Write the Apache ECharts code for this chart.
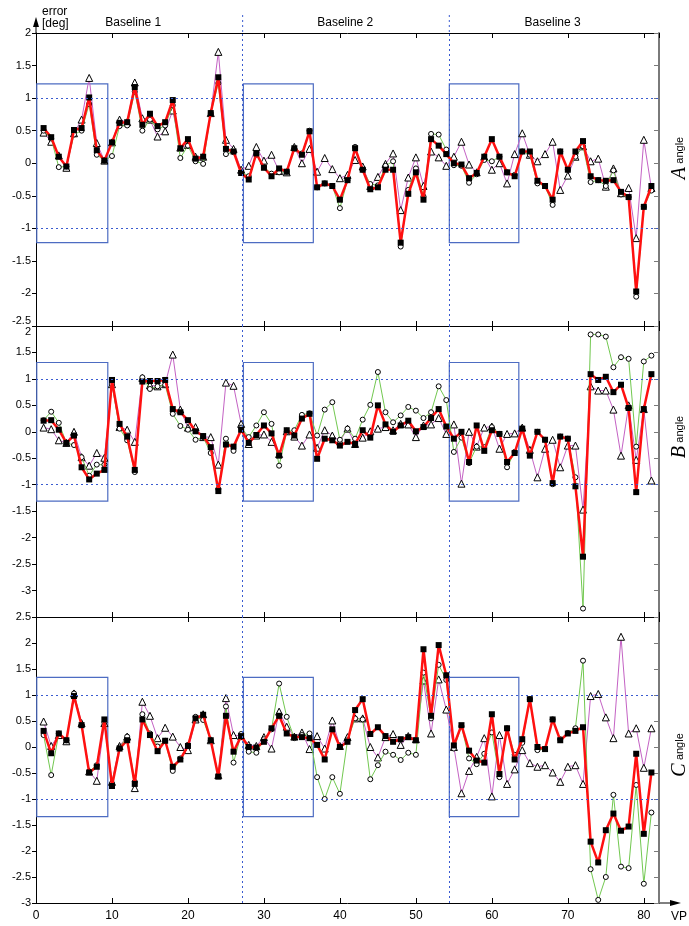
<!DOCTYPE html>
<html><head><meta charset="utf-8">
<script src="https://cdn.jsdelivr.net/npm/echarts@6/dist/echarts.min.js"></script>
<style>html,body{margin:0;padding:0;background:#fff}#c{width:689px;height:926px}</style>
</head><body><div id="c"></div>
<script>
const vp = [1,2,3,4,5,6,7,8,9,10,11,12,13,14,15,16,17,18,19,20,21,22,23,24,25,26,27,28,29,30,31,32,33,34,35,36,37,38,39,40,41,42,43,44,45,46,47,48,49,50,51,52,53,54,55,56,57,58,59,60,61,62,63,64,65,66,67,68,69,70,71,72,73,74,75,76,77,78,79,80,81];
const xTickLabels = ['0','10','20','30','40','50','60','70','80'];
const baselineNames = ['Baseline 1','Baseline 2','Baseline 3'];
const baselineCenters = [12.8, 40.7, 68];
const baselineBoxes = [[0.1, 9.45],[27.3, 36.5],[54.4, 63.55]];
const separators = [27.2, 54.4];
const boxHalfHeight = [1.22, 1.31, 1.34];
const panelLetters = ['A','B','C'];

// Panel A
const aRed = [0.54,0.40,0.10,-0.05,0.51,0.54,1.01,0.20,0.04,0.32,0.62,0.63,1.17,0.59,0.76,0.57,0.63,0.97,0.23,0.37,0.07,0.10,0.77,1.32,0.22,0.18,-0.15,-0.25,0.15,-0.07,-0.20,-0.08,-0.13,0.23,0.13,0.49,-0.37,-0.31,-0.35,-0.56,-0.26,0.23,-0.10,-0.40,-0.37,-0.10,-0.10,-1.22,-0.47,-0.14,-0.56,0.37,0.27,0.14,0.00,-0.02,-0.23,-0.15,0.10,0.37,0.10,-0.14,-0.20,0.18,0.18,-0.27,-0.35,-0.56,0.18,-0.10,0.18,0.34,-0.20,-0.26,-0.27,-0.26,-0.44,-0.52,-1.97,-0.67,-0.35];
const aGreen = [0.50,0.38,-0.06,-0.05,0.44,0.50,0.91,0.13,0.04,0.11,0.57,0.58,1.10,0.50,0.67,0.52,0.58,0.89,0.08,0.27,0.03,-0.01,0.77,1.23,0.14,0.17,-0.13,-0.20,0.13,-0.06,-0.16,-0.14,-0.13,0.22,0.15,0.50,-0.37,-0.31,-0.35,-0.69,-0.26,0.25,-0.10,-0.32,-0.34,-0.04,0.03,-1.28,-0.41,-0.08,-0.51,0.45,0.44,0.21,-0.03,-0.04,-0.30,-0.17,0.05,0.03,0.10,-0.14,-0.18,0.18,0.13,-0.31,-0.35,-0.64,0.18,-0.10,0.10,0.26,-0.29,-0.26,-0.35,-0.11,-0.48,-0.52,-2.05,-0.67,-0.42];
const aMagenta = [0.47,0.33,0.12,-0.07,0.46,0.67,1.31,0.31,0.04,0.32,0.67,0.63,1.24,0.69,0.67,0.41,0.49,0.81,0.24,0.28,0.10,0.10,0.77,1.71,0.36,0.22,-0.10,-0.04,0.25,0.04,0.13,-0.12,-0.14,0.25,0.00,0.22,-0.13,0.08,-0.09,-0.23,-0.18,0.05,-0.05,-0.35,-0.21,-0.01,0.15,-0.72,-0.22,0.09,-0.35,0.18,0.09,-0.04,0.10,0.33,-0.02,-0.14,0.10,-0.10,0.00,-0.31,0.14,0.46,0.13,0.03,0.14,0.33,-0.41,-0.19,0.10,0.26,0.03,0.07,-0.36,-0.08,-0.46,-0.38,-1.15,0.36,-0.38];
// Panel B
const bRed = [0.21,0.22,0.04,-0.21,-0.07,-0.67,-0.90,-0.79,-0.72,0.98,0.15,-0.09,-0.72,0.95,0.96,0.96,0.98,0.43,0.37,0.22,0.01,-0.08,-0.29,-1.12,-0.24,-0.28,0.04,-0.21,-0.06,0.12,-0.03,-0.45,0.03,-0.07,0.25,0.34,-0.51,-0.13,-0.16,-0.26,-0.19,-0.23,0.03,-0.11,0.50,0.14,0.00,0.12,0.21,0.01,0.09,0.26,0.43,0.10,-0.13,0.00,-0.57,0.12,-0.36,0.03,-0.04,-0.57,-0.40,0.06,-0.45,0.00,-0.15,-0.97,-0.09,-0.13,-1.03,-2.36,1.09,0.98,1.04,0.75,0.89,0.45,-1.14,0.43,1.09];
const bGreen = [0.22,0.38,0.17,-0.21,-0.25,-0.48,-0.83,-0.62,-0.62,0.90,0.06,-0.16,-0.76,1.03,0.81,0.86,0.89,0.34,0.11,0.04,-0.15,-0.10,-0.40,-1.08,-0.13,-0.36,0.08,-0.10,0.12,0.37,0.15,-0.64,0.00,0.03,0.32,0.35,-0.07,0.42,0.56,-0.15,0.06,-0.13,0.23,0.51,1.13,0.37,0.18,0.31,0.47,0.40,0.26,0.37,0.86,0.60,-0.38,-0.11,-0.59,-0.28,-0.29,0.09,-0.04,-0.67,-0.38,0.06,-0.42,0.00,-0.15,-0.99,-0.09,-0.13,-0.86,-3.34,1.84,1.84,1.80,1.22,1.41,1.38,-0.28,1.33,1.44];
const bMagenta = [0.08,0.05,-0.16,-0.21,0.00,-0.48,-0.64,-0.40,-0.49,0.90,0.09,0.04,-0.19,1.02,0.88,0.86,0.90,1.46,0.42,0.08,0.09,-0.10,-0.10,-0.62,0.93,0.87,0.15,-0.23,-0.07,-0.05,-0.19,-0.42,0.01,-0.09,-0.26,-0.05,-0.30,0.03,-0.07,-0.18,0.06,-0.23,-0.11,0.01,0.06,0.09,0.03,0.15,0.14,-0.10,0.12,0.14,0.26,-0.04,0.14,-0.98,0.00,-0.28,0.08,0.10,-0.32,-0.04,-0.03,0.08,-0.34,-0.86,-0.32,-0.15,-0.67,-0.26,-0.26,-1.47,0.86,0.78,0.78,0.42,-0.45,0.50,-0.53,0.43,-0.92];
// Panel C
const cRed = [0.31,-0.12,0.26,0.13,0.98,0.42,-0.49,-0.38,0.53,-0.75,-0.03,0.13,-0.71,0.53,0.23,-0.08,0.12,-0.38,-0.24,0.02,0.55,0.62,0.13,-0.57,0.60,-0.09,0.21,0.00,-0.01,0.10,0.36,0.60,0.26,0.19,0.19,0.17,0.04,-0.24,0.34,0.00,0.10,0.71,0.92,0.25,0.38,0.21,0.10,0.15,0.19,0.13,1.88,0.60,1.96,1.38,0.03,0.42,-0.07,-0.26,-0.30,0.63,-0.52,0.36,-0.24,0.15,0.92,0.00,-0.04,0.53,0.13,0.26,0.31,0.38,-1.82,-2.22,-1.60,-1.28,-1.61,-1.53,-0.13,-1.67,-0.49];
const cGreen = [0.23,-0.54,0.26,0.13,1.03,0.42,-0.47,-0.35,0.47,-0.70,-0.01,0.20,-0.67,0.63,0.26,0.01,0.12,-0.46,-0.22,0.04,0.58,0.52,0.13,-0.54,0.78,-0.30,0.25,-0.09,-0.11,0.15,0.34,1.22,0.58,0.17,0.23,0.26,-0.58,-1.00,-0.58,-0.90,0.13,0.55,0.53,-0.62,-0.35,-0.09,-0.15,-0.25,-0.11,-0.15,1.43,0.55,1.58,1.29,-0.03,0.40,-0.22,-0.33,-0.13,0.28,-0.58,0.36,-0.15,0.08,0.92,-0.06,-0.04,0.53,0.15,0.27,0.36,1.66,-2.35,-2.94,-2.50,-0.92,-2.30,-2.33,-0.73,-2.63,-1.26];
const cMagenta = [0.49,0.02,0.23,0.11,1.03,0.46,-0.47,-0.65,0.46,-0.67,0.02,0.20,-0.79,0.87,0.60,0.17,0.37,0.20,0.00,-0.06,0.53,0.63,0.13,-0.54,0.94,0.23,0.21,0.04,0.02,0.19,-0.03,0.68,0.39,0.20,0.28,-0.04,0.21,-0.03,0.51,0.02,0.19,0.55,0.55,0.00,-0.20,0.19,0.25,0.04,0.21,0.15,1.28,0.26,1.30,0.72,0.00,-0.89,-0.46,-0.19,0.17,-0.95,0.23,-0.71,-0.43,-0.06,-0.31,-0.38,-0.35,-0.49,-0.67,-0.38,-0.35,-0.71,0.98,1.02,0.57,0.17,2.12,0.26,0.36,-0.40,0.36];

const panelData = [[aRed,aGreen,aMagenta],[bRed,bGreen,bMagenta],[cRed,cGreen,cMagenta]];
const yRanges = [[-2.5,2],[-3.5,2],[-3,2.5]];

const RED='#ff1010', GREEN='#72c850', MAG='#c462c4', BOX='#4d6cc2', DOT='#3a5bd0';
const FONT='Liberation Sans, Arial, sans-serif';

const chart = echarts.init(document.getElementById('c'));
const grids = [
  {left:36,right:30,top:33,height:293},
  {left:36,right:30,top:326,height:291},
  {left:36,right:30,top:617,height:286}
];
const xAxes=[], yAxes=[], series=[];
for (let i=0;i<3;i++){
  xAxes.push({gridIndex:i,type:'value',min:0,max:82,interval:10,position:'bottom',
    axisLine:{show:true,onZero:false,lineStyle:{color:'#000',width:1}},
    axisTick:{show:true,inside:true,length:5,lineStyle:{color:'#000'}},
    axisLabel:{show:i===2,showMaxLabel:false,color:'#000',fontSize:12,fontFamily:FONT,margin:7,
      formatter:(v)=>xTickLabels[Math.round(v/10)]||''},
    splitLine:{show:false}});
  xAxes.push({gridIndex:i,type:'value',min:0,max:82,interval:10,position:'top',
    axisLine:{show:true,onZero:false,lineStyle:{color:'#000',width:1}},
    axisTick:{show:true,inside:true,length:5,lineStyle:{color:'#000'}},
    axisLabel:{show:false},splitLine:{show:false}});
  const yl = {gridIndex:i,type:'value',min:yRanges[i][0],max:yRanges[i][1],interval:0.5,position:'left',
    axisLine:{show:true,onZero:false,lineStyle:{color:'#000',width:1}},
    axisTick:{show:true,inside:false,length:4,lineStyle:{color:'#000'}},
    axisLabel:{color:'#000',fontSize:11,fontFamily:FONT,margin:5},
    splitLine:{show:false}};
  if(i===0) yl.axisLabel.verticalAlignMinLabel='bottom';
  if(i===1){ yl.axisLabel.verticalAlignMaxLabel='top'; yl.axisLabel.showMinLabel=false; }
  yAxes.push(yl);
  yAxes.push({gridIndex:i,type:'value',min:yRanges[i][0],max:yRanges[i][1],interval:0.5,position:'right',
    axisLine:{show:true,onZero:false,lineStyle:{color:'#7a7a7a',width:2}},
    axisTick:{show:true,inside:true,length:5,lineStyle:{color:'#7a7a7a'}},
    axisLabel:{show:false},splitLine:{show:false}});

  const h = boxHalfHeight[i];
  series.push({type:'line',xAxisIndex:i*2,yAxisIndex:i*2,data:[],z:1,silent:true,
    markArea:{silent:true,itemStyle:{color:'rgba(0,0,0,0)',borderColor:BOX,borderWidth:1.2},
      data:baselineBoxes.map(b=>[{xAxis:b[0],yAxis:h},{xAxis:b[1],yAxis:-h}])},
    markLine:{silent:true,symbol:'none',label:{show:false},lineStyle:{color:DOT,width:1,type:[2,3]},
      data:[{yAxis:1},{yAxis:-1},{xAxis:separators[0]},{xAxis:separators[1]}]}});
  const d = panelData[i];
  const pairs = arr => vp.map((v,k)=>[v,arr[k]]);
  series.push({type:'line',xAxisIndex:i*2,yAxisIndex:i*2,data:pairs(d[2]),z:2,symbol:'triangle',symbolSize:7,showAllSymbol:true,
    lineStyle:{color:MAG,width:1},itemStyle:{color:'#fff',borderColor:'#000',borderWidth:1}});
  series.push({type:'line',xAxisIndex:i*2,yAxisIndex:i*2,data:pairs(d[1]),z:3,symbol:'circle',symbolSize:5,showAllSymbol:true,
    lineStyle:{color:GREEN,width:1},itemStyle:{color:'#fff',borderColor:'#000',borderWidth:1}});
  series.push({type:'line',xAxisIndex:i*2,yAxisIndex:i*2,data:pairs(d[0]),z:4,symbol:'rect',symbolSize:6,showAllSymbol:true,
    lineStyle:{color:RED,width:2.5},itemStyle:{color:'#000',borderColor:'#000',borderWidth:0}});
}
chart.setOption({animation:false,backgroundColor:'#fff',grid:grids,xAxis:xAxes,yAxis:yAxes,series:series});

// decorations positioned through the library's scales
const g = [];
const topA = chart.convertToPixel({gridIndex:0},[0,2]);
const botC = chart.convertToPixel({gridIndex:2},[82,-3]);
g.push({type:'line',shape:{x1:topA[0],y1:topA[1],x2:topA[0],y2:20},style:{stroke:'#000',lineWidth:1}});
g.push({type:'polygon',shape:{points:[[topA[0]-3,27],[topA[0]+3,27],[topA[0],17]]},style:{fill:'#000'}});
g.push({type:'text',x:topA[0]+6,y:6,style:{text:'error\n[deg]',font:'12px '+FONT,fill:'#000',lineHeight:12}});
g.push({type:'line',shape:{x1:botC[0],y1:botC[1],x2:672,y2:botC[1]},style:{stroke:'#000',lineWidth:1}});
g.push({type:'polygon',shape:{points:[[670,botC[1]-3],[670,botC[1]+3],[681,botC[1]]]},style:{fill:'#000'}});
g.push({type:'text',x:671,y:911,style:{text:'VP',font:'12px '+FONT,fill:'#000'}});
separators.forEach(s=>{
  const p = chart.convertToPixel({gridIndex:0},[s,2]);
  g.push({type:'line',shape:{x1:p[0],y1:15,x2:p[0],y2:p[1]},style:{stroke:DOT,lineWidth:1,lineDash:[2,3]}});
});
baselineNames.forEach((n,k)=>{
  const p = chart.convertToPixel({gridIndex:0},[baselineCenters[k],2]);
  g.push({type:'text',x:p[0],y:23,style:{text:n,font:'12px '+FONT,fill:'#000',align:'center',verticalAlign:'middle'}});
});
const labelY=[158,437,755];
panelLetters.forEach((L,k)=>{
  g.push({type:'text',x:680,y:labelY[k],rotation:Math.PI/2,
    style:{text:'{a|'+L+'} {b|angle}',align:'center',verticalAlign:'middle',
      rich:{a:{fontFamily:'Liberation Serif',fontStyle:'italic',fontSize:20,fill:'#000'},
            b:{fontFamily:FONT,fontSize:11,fill:'#000'}}}});
});
chart.setOption({graphic:g});
</script></body></html>
